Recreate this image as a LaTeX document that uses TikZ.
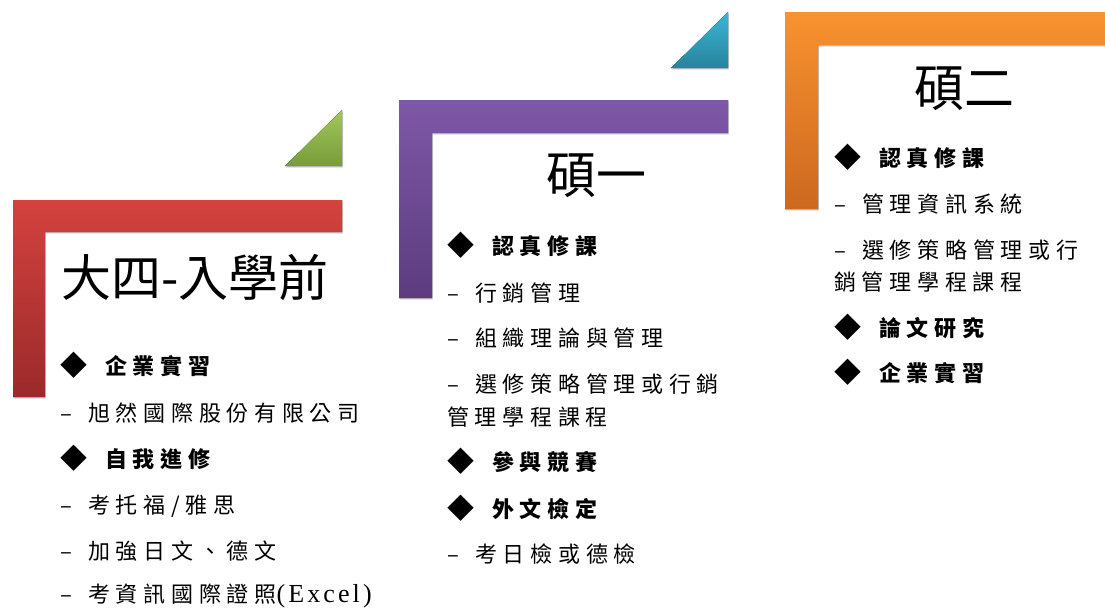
\documentclass[tikz,border=0pt]{standalone}
\usepackage{fontspec}
\setmainfont{Liberation Serif}
\newfontfamily\cjktitle{Noto Sans CJK TC}
\newfontfamily\cjkbody[LetterSpace=26]{Noto Sans CJK TC}
\newfontfamily\latinbody[LetterSpace=12]{Liberation Serif}
\usetikzlibrary{shadows}

\definecolor{redtop}{HTML}{D3423F}
\definecolor{redbot}{HTML}{9B2A2A}
\definecolor{purpletop}{HTML}{7E58A7}
\definecolor{purplebot}{HTML}{5C3C7F}
\definecolor{orangetop}{HTML}{F9922F}
\definecolor{orangebot}{HTML}{CC6820}
\definecolor{greentop}{HTML}{A2C75A}
\definecolor{greenbot}{HTML}{789C3A}
\definecolor{bluetop}{HTML}{3BB7D6}
\definecolor{bluebot}{HTML}{27839D}

\newcommand{\hditem}[1]{\makebox[45pt][l]{\cjktitle\fontsize{27}{27}\selectfont\raisebox{-1pt}{◆}}\textbf{#1}}
\newcommand{\dashitem}[1]{\makebox[28pt][l]{–}#1}

\tikzset{
  stagetitle/.style={anchor=base west, inner sep=0pt, font=\cjktitle\fontsize{50}{50}\selectfont},
  itemline/.style={anchor=base west, inner sep=0pt, font=\cjkbody\fontsize{22}{22}\selectfont},
  bar/.style={drop shadow={shadow xshift=1pt, shadow yshift=-1.5pt, opacity=0.3}}
}

\begin{document}
\begin{tikzpicture}[x=1pt,y=-1pt]
  \useasboundingbox (0,0) rectangle (1105,608);

  \fill[bar, top color=redtop, bottom color=redbot]
    (13,200) -- (342,200) -- (342,232) -- (45,232) -- (45,397) -- (13,397) -- cycle;
  \fill[bar, top color=purpletop, bottom color=purplebot]
    (399,100) -- (728,100) -- (728,133) -- (432,133) -- (432,298) -- (399,298) -- cycle;
  \fill[bar, top color=orangetop, bottom color=orangebot]
    (785,12) -- (1105,12) -- (1105,45) -- (818,45) -- (818,209) -- (785,209) -- cycle;

  \fill[bar, top color=greentop, bottom color=greenbot] (285,166) -- (342,110) -- (342,166) -- cycle;
  \fill[bar, top color=bluetop, bottom color=bluebot] (671,68) -- (728,12) -- (728,68) -- cycle;

  \node[stagetitle] (t1) at (61,296.5) {大四-入學前};
  \node[itemline] (a1) at (60,374) {\hditem{企業實習}};
  \node[itemline] (a2) at (60,421) {\dashitem{旭然國際股份有限公司}};
  \node[itemline] (a3) at (60,467) {\hditem{自我進修}};
  \node[itemline] (a4) at (60,513) {\dashitem{考托福/雅思}};
  \node[itemline] (a5) at (60,559) {\dashitem{加強日文、德文}};
  \node[itemline] (a6) at (60,602) {\dashitem{考資訊國際證照{\latinbody\fontsize{26}{26}\selectfont(Excel)}}};

  \node[stagetitle] (t2) at (546,193.5) {碩一};
  \node[itemline] (b1) at (447,254) {\hditem{認真修課}};
  \node[itemline] (b2) at (447,301) {\dashitem{行銷管理}};
  \node[itemline] (b3) at (447,346) {\dashitem{組織理論與管理}};
  \node[itemline] (b4) at (447,392) {\dashitem{選修策略管理或行銷}};
  \node[itemline] (b5) at (447,425) {管理學程課程};
  \node[itemline] (b6) at (447,470) {\hditem{參與競賽}};
  \node[itemline] (b7) at (447,517) {\hditem{外文檢定}};
  \node[itemline] (b8) at (447,562) {\dashitem{考日檢或德檢}};

  \node[stagetitle] (t3) at (914,106.5) {碩二};
  \node[itemline] (c1) at (834,166) {\hditem{認真修課}};
  \node[itemline] (c2) at (834,212) {\dashitem{管理資訊系統}};
  \node[itemline] (c3) at (834,258) {\dashitem{選修策略管理或行}};
  \node[itemline] (c4) at (834,290) {銷管理學程課程};
  \node[itemline] (c5) at (834,336) {\hditem{論文研究}};
  \node[itemline] (c6) at (834,381) {\hditem{企業實習}};
\end{tikzpicture}
\end{document}
